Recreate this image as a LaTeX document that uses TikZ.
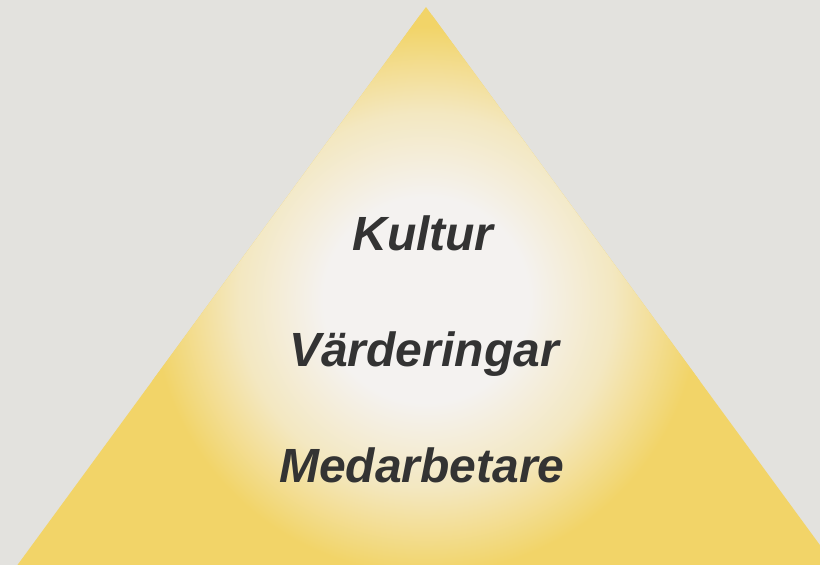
\documentclass[tikz,border=0pt]{standalone}
\usepackage{fontspec}
\newfontfamily\pyrfont{Liberation Sans}
\definecolor{bggray}{RGB}{227,226,222}
\definecolor{pyryellow}{RGB}{242,212,104}
\definecolor{glowwhite}{RGB}{244,242,240}
\definecolor{textgray}{RGB}{51,51,51}
\usepackage{tikz}
\pgfdeclareradialshading{pyrglow}{\pgfpoint{0bp}{0bp}}{%
  color(0bp)=(glowwhite); color(9bp)=(glowwhite);
  color(16.5bp)=(pyryellow!35!glowwhite); color(24bp)=(pyryellow);
  color(50bp)=(pyryellow)}

\begin{document}
\begin{tikzpicture}[x=1pt,y=-1pt,
  layerlabel/.style={anchor=base,text=textgray,
               font=\pyrfont\bfseries\itshape\fontsize{48}{48}\selectfont}]

  \useasboundingbox (0,0) rectangle (820,565);
  \fill[bggray] (0,0) rectangle (820,565);

  % pyramid with soft glow
  \begin{scope}
    \clip (0,0) rectangle (820,565);
    \coordinate (top)   at (426,7);
    \coordinate (left)  at (16,567);
    \coordinate (right) at (836,567);
    \fill[pyryellow] (top) -- (left) -- (right) -- cycle;
    \clip (top) -- (left) -- (right) -- cycle;
    \shade[shading=pyrglow] (426,300) circle [radius=285];
  \end{scope}

  \node[layerlabel] (K) at (423,250) {Kultur};
  \node[layerlabel] (V) at (424,366) {Värderingar};
  \node[layerlabel] (M) at (422,482) {Medarbetare};
\end{tikzpicture}
\end{document}
